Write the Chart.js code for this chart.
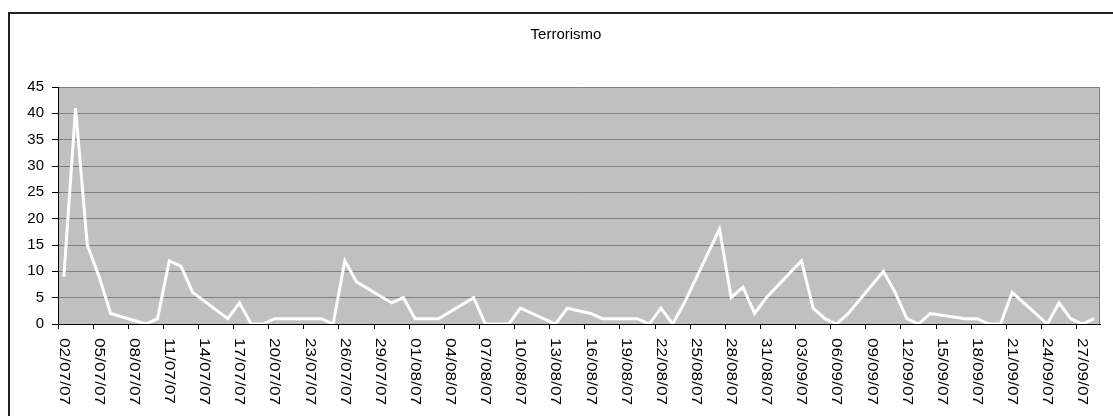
<!DOCTYPE html>
<html>
<head>
<meta charset="utf-8">
<script src="https://cdn.jsdelivr.net/npm/chart.js@4/dist/chart.umd.min.js"></script>
<style>
  html, body { margin: 0; padding: 0; background: #fff; overflow: hidden; }
  #wrap { position: relative; width: 1130px; height: 416px; }
</style>
</head>
<body>
<div id="wrap"><canvas id="chart"></canvas></div>
<script>
const title = "Terrorismo";

const days = [
  "02/07/07", "03/07/07", "04/07/07", "05/07/07", "06/07/07", "07/07/07", "08/07/07",
  "09/07/07", "10/07/07", "11/07/07", "12/07/07", "13/07/07", "14/07/07", "15/07/07",
  "16/07/07", "17/07/07", "18/07/07", "19/07/07", "20/07/07", "21/07/07", "22/07/07",
  "23/07/07", "24/07/07", "25/07/07", "26/07/07", "27/07/07", "28/07/07", "29/07/07",
  "30/07/07", "31/07/07", "01/08/07", "02/08/07", "03/08/07", "04/08/07", "05/08/07",
  "06/08/07", "07/08/07", "08/08/07", "09/08/07", "10/08/07", "11/08/07", "12/08/07",
  "13/08/07", "14/08/07", "15/08/07", "16/08/07", "17/08/07", "18/08/07", "19/08/07",
  "20/08/07", "21/08/07", "22/08/07", "23/08/07", "24/08/07", "25/08/07", "26/08/07",
  "27/08/07", "28/08/07", "29/08/07", "30/08/07", "31/08/07", "01/09/07", "02/09/07",
  "03/09/07", "04/09/07", "05/09/07", "06/09/07", "07/09/07", "08/09/07", "09/09/07",
  "10/09/07", "11/09/07", "12/09/07", "13/09/07", "14/09/07", "15/09/07", "16/09/07",
  "17/09/07", "18/09/07", "19/09/07", "20/09/07", "21/09/07", "22/09/07", "23/09/07",
  "24/09/07", "25/09/07", "26/09/07", "27/09/07", "28/09/07"
];

// weekends (and 15/08) have no value, the line just joins across them
const counts = [
  9, 41, 15, 9, 2, null, null,
  0, 1, 12, 11, 6, null, null,
  1, 4, 0, 0, 1, null, null,
  1, 1, 0, 12, 8, null, null,
  4, 5, 1, 1, 1, null, null,
  5, 0, 0, 0, 3, null, null,
  0, 3, null, 2, 1, null, null,
  1, 0, 3, 0, 4, null, null,
  18, 5, 7, 2, 5, null, null,
  12, 3, 1, 0, 2, null, null,
  10, 6, 1, 0, 2, null, null,
  1, 1, 0, 0, 6, null, null,
  0, 4, 1, 0, 1
];

const yTicks = [0, 5, 10, 15, 20, 25, 30, 35, 40, 45];
const labelEvery = 3;

const font = "Arial, 'Liberation Sans', sans-serif";

// white page, outer frame, grey plot area and the title
const backdrop = {
  id: "backdrop",
  beforeDraw(chart) {
    const { ctx, chartArea: a } = chart;
    ctx.save();
    ctx.fillStyle = "#fff";
    ctx.fillRect(0, 0, chart.width, chart.height);
    ctx.strokeStyle = "#222";
    ctx.lineWidth = 2;
    ctx.strokeRect(9, 13, 1115, 500);
    ctx.fillStyle = "#c0c0c0";
    ctx.fillRect(a.left, a.top, a.right - a.left, a.bottom - a.top);
    // title sits in the middle of the frame, not of the plot
    ctx.fillStyle = "#000";
    ctx.font = "15px " + font;
    ctx.textAlign = "center";
    ctx.textBaseline = "middle";
    ctx.fillText(title, 566, 35);
    ctx.restore();
  },
  beforeDatasetsDraw(chart) {
    const { ctx, chartArea: a } = chart;
    ctx.save();
    ctx.strokeStyle = "#808080";
    ctx.lineWidth = 1;
    ctx.beginPath();
    ctx.moveTo(a.right - 0.5, a.top);
    ctx.lineTo(a.right - 0.5, a.bottom);
    ctx.stroke();
    ctx.restore();
  }
};

// date labels read top to bottom
const dateLabels = {
  id: "dateLabels",
  afterDraw(chart) {
    const { ctx } = chart;
    const x = chart.scales.x;
    ctx.save();
    ctx.fillStyle = "#000";
    ctx.font = "15px " + font;
    ctx.textAlign = "left";
    ctx.textBaseline = "middle";
    days.forEach((d, i) => {
      if (i % labelEvery !== 0) return;
      ctx.save();
      ctx.translate(x.getPixelForValue(i), x.top + 14);
      ctx.rotate(Math.PI / 2);
      ctx.scale(1.15, 1);
      ctx.fillText(d, 0, 0);
      ctx.restore();
    });
    ctx.restore();
  }
};

new Chart(document.getElementById("chart"), {
  type: "line",
  data: {
    labels: days,
    datasets: [{
      label: title,
      data: counts,
      borderColor: "#fff",
      borderWidth: 3,
      pointRadius: 0,
      tension: 0,
      spanGaps: true,
      fill: false
    }]
  },
  options: {
    responsive: true,
    maintainAspectRatio: false,
    animation: false,
    layout: { padding: { top: 87, left: 0, right: 30, bottom: 0 } },
    plugins: {
      legend: { display: false },
      tooltip: { enabled: false },
      title: { display: false }
    },
    scales: {
      x: {
        type: "category",
        offset: true,
        afterFit(s) { s.height = 92; },
        grid: {
          offset: true,
          drawOnChartArea: false,
          tickLength: 5,
          tickColor: c => (c.index % labelEvery === 0 ? "#000" : "rgba(0,0,0,0)")
        },
        border: { display: true, color: "#000", width: 1 },
        ticks: { display: false, autoSkip: false }
      },
      y: {
        min: 0,
        max: 45,
        afterFit(s) { s.width = 58; },
        afterBuildTicks(s) { s.ticks = yTicks.map(v => ({ value: v })); },
        grid: { color: "#808080", lineWidth: 1, tickColor: "#000", tickLength: 6 },
        border: { display: true, color: "#000", width: 1 },
        ticks: {
          color: "#000",
          padding: 8,
          font: { family: font, size: 15 }
        }
      }
    }
  },
  plugins: [backdrop, dateLabels]
});
</script>
</body>
</html>
